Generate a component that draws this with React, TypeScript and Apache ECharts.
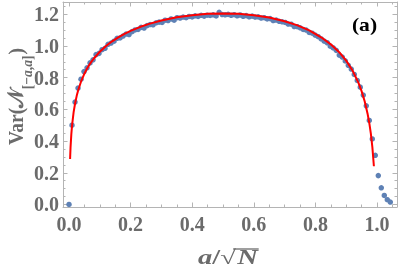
import React, { useEffect, useRef } from 'react';
import * as echarts from 'echarts';

// ---- data ----
const dotX = [
  0, 0.00975, 0.0195, 0.02925, 0.039, 0.04875, 0.0585, 0.06825, 0.078, 0.08775,
  0.0975, 0.10725, 0.117, 0.12675, 0.1365, 0.14625, 0.156, 0.16575, 0.1755, 0.18525,
  0.195, 0.20475, 0.2145, 0.22425, 0.234, 0.24375, 0.2535, 0.26325, 0.273, 0.28275,
  0.2925, 0.30225, 0.312, 0.32175, 0.3315, 0.34125, 0.351, 0.36075, 0.3705, 0.38025,
  0.39, 0.39975, 0.4095, 0.41925, 0.429, 0.43875, 0.4485, 0.45825, 0.468, 0.47775,
  0.4875, 0.49725, 0.507, 0.51675, 0.5265, 0.53625, 0.546, 0.55575, 0.5655, 0.57525,
  0.585, 0.59475, 0.6045, 0.61425, 0.624, 0.63375, 0.6435, 0.65325, 0.663, 0.67275,
  0.6825, 0.69225, 0.702, 0.71175, 0.7215, 0.73125, 0.741, 0.75075, 0.7605, 0.77025,
  0.78, 0.78975, 0.7995, 0.80925, 0.819, 0.82875, 0.8385, 0.84825, 0.858, 0.86775,
  0.8775, 0.88725, 0.897, 0.90675, 0.9165, 0.92625, 0.936, 0.94575, 0.9555, 0.96525,
  0.975, 0.98475, 0.9945, 1.00425, 1.014, 1.02375, 1.0335, 1.04325,
];
const dotY = [
  0.0, 0.5, 0.646, 0.734, 0.79, 0.838, 0.862, 0.893, 0.912, 0.945,
  0.953, 0.976, 0.985, 1.01, 1.018, 1.03, 1.048, 1.05, 1.062, 1.075,
  1.072, 1.09, 1.101, 1.104, 1.117, 1.113, 1.128, 1.135, 1.133, 1.146,
  1.15, 1.148, 1.162, 1.16, 1.17, 1.162, 1.178, 1.176, 1.182, 1.178,
  1.186, 1.183, 1.19, 1.186, 1.193, 1.188, 1.194, 1.192, 1.196, 1.189,
  1.212, 1.198, 1.196, 1.199, 1.193, 1.197, 1.19, 1.195, 1.187, 1.191,
  1.184, 1.188, 1.182, 1.183, 1.176, 1.178, 1.17, 1.172, 1.16, 1.163,
  1.155, 1.152, 1.148, 1.138, 1.137, 1.122, 1.121, 1.114, 1.104, 1.1,
  1.085, 1.08, 1.068, 1.058, 1.044, 1.03, 1.02, 0.998, 0.987, 0.972,
  0.942, 0.93, 0.905, 0.878, 0.854, 0.82, 0.782, 0.74, 0.69, 0.622,
  0.53, 0.413, 0.31, 0.182, 0.105, 0.057, 0.03, 0.015,
];
const curveX = [
  0.0035, 0.005, 0.0075, 0.01, 0.015, 0.02, 0.025, 0.03, 0.04, 0.05,
  0.06, 0.07, 0.08, 0.1, 0.12, 0.14, 0.16, 0.18, 0.2, 0.23,
  0.26, 0.3, 0.35, 0.4, 0.45, 0.5, 0.55, 0.6, 0.65, 0.7,
  0.74, 0.78, 0.82, 0.85, 0.88, 0.9, 0.92, 0.94, 0.95, 0.96,
  0.97, 0.975, 0.98, 0.985, 0.99,
];
const curveY = [
  0.287, 0.36, 0.442, 0.5, 0.582, 0.64, 0.685, 0.722, 0.78, 0.825,
  0.862, 0.893, 0.919, 0.963, 0.999, 1.029, 1.054, 1.076, 1.095, 1.119,
  1.139, 1.16, 1.181, 1.194, 1.2025, 1.205, 1.2024, 1.194, 1.179, 1.156,
  1.131, 1.098, 1.053, 1.01, 0.955, 0.907, 0.847, 0.767, 0.715, 0.651,
  0.567, 0.514, 0.448, 0.362, 0.241,
];
const xMajorTicks = [0, 0.2, 0.4, 0.6, 0.8, 1.0];
const xMinorTicks = [
  0, 0.05, 0.1, 0.15, 0.2, 0.25, 0.3, 0.35, 0.4, 0.45, 0.5,
  0.55, 0.6, 0.65, 0.7, 0.75, 0.8, 0.85, 0.9, 0.95, 1.0, 1.05,
];
const yMajorTicks = [0, 0.2, 0.4, 0.6, 0.8, 1.0, 1.2];
const yMinorTicks = [
  0, 0.05, 0.1, 0.15, 0.2, 0.25, 0.3, 0.35, 0.4, 0.45, 0.5, 0.55, 0.6,
  0.65, 0.7, 0.75, 0.8, 0.85, 0.9, 0.95, 1.0, 1.05, 1.1, 1.15, 1.2, 1.25,
];

const SERIF = '"Liberation Serif", "Times New Roman", "DejaVu Serif", serif';
const FRAME = '#b4b4b4';
const LABEL = '#6b6b6b';
const X_MIN = -0.0195;
const X_MAX = 1.065;
const Y_MIN = -0.016;
const Y_MAX = 1.277;

function textWidth(t: string, font: string): number {
  const c = document.createElement('canvas').getContext('2d');
  if (!c) return t.length * 10;
  c.font = font;
  return c.measureText(t).width;
}

type Piece = { t: string; size: number; italic?: boolean; dy?: number; gap?: number };

function layoutPieces(pieces: Piece[], color: string) {
  let x = 0;
  const children: any[] = [];
  const pos: number[] = [];
  pieces.forEach((p) => {
    x += p.gap || 0;
    const font = `${p.italic ? 'italic ' : ''}bold ${p.size}px ${SERIF}`;
    const w = textWidth(p.t, font);
    pos.push(x);
    children.push({
      type: 'text',
      x,
      y: p.dy || 0,
      style: {
        text: p.t,
        fill: color,
        fontSize: p.size,
        fontFamily: SERIF,
        fontWeight: 'bold',
        fontStyle: p.italic ? 'italic' : 'normal',
        align: 'left',
        textAlign: 'left',
        verticalAlign: 'middle',
        textVerticalAlign: 'middle',
      },
    });
    x += w;
  });
  return { children, width: x, pos };
}

function xAxisDef(position: string, ticks: number[], len: number, line: boolean, label: boolean) {
  return {
    type: 'value',
    gridIndex: 0,
    position,
    min: X_MIN,
    max: X_MAX,
    splitLine: { show: false },
    minorTick: { show: false },
    axisLine: { show: line, onZero: false, lineStyle: { color: FRAME, width: 1 } },
    axisTick: { show: true, inside: true, length: len, customValues: ticks, lineStyle: { color: FRAME, width: 1 } },
    axisLabel: {
      show: label,
      customValues: xMajorTicks,
      formatter: (v: number) => v.toFixed(1),
      fontFamily: SERIF,
      fontWeight: 'bold',
      fontSize: 20,
      color: LABEL,
      margin: 7,
    },
  };
}

function yAxisDef(position: string, ticks: number[], len: number, line: boolean, label: boolean) {
  return {
    type: 'value',
    gridIndex: 0,
    position,
    min: Y_MIN,
    max: Y_MAX,
    splitLine: { show: false },
    minorTick: { show: false },
    axisLine: { show: line, onZero: false, lineStyle: { color: FRAME, width: 1 } },
    axisTick: { show: true, inside: true, length: len, customValues: ticks, lineStyle: { color: FRAME, width: 1 } },
    axisLabel: {
      show: label,
      customValues: yMajorTicks,
      formatter: (v: number) => v.toFixed(1),
      fontFamily: SERIF,
      fontWeight: 'bold',
      fontSize: 20,
      color: LABEL,
      margin: 4,
    },
  };
}

export default function App() {
  const ref = useRef<HTMLDivElement>(null);
  useEffect(() => {
    if (!ref.current) return;
    const chart = echarts.init(ref.current, null, { renderer: 'svg' });

    // y-axis title: Var(N_[-a,a]) rotated
    const yl = layoutPieces(
      [
        { t: 'Var(', size: 20 },
        { t: '𝒩', size: 20 },
        { t: '[', size: 14, dy: 10 },
        { t: '−', size: 14, dy: 10 },
        { t: 'a', size: 14, italic: true, dy: 10 },
        { t: ',', size: 14, dy: 10 },
        { t: 'a', size: 14, italic: true, dy: 10 },
        { t: ']', size: 14, dy: 10 },
        { t: ')', size: 20, gap: 1 },
      ],
      LABEL
    );
    const yTarget = 97;
    const ysx = yTarget / yl.width;

    // x-axis title: a/√N
    const xl = layoutPieces(
      [
        { t: 'a', size: 20, italic: true },
        { t: '/', size: 20 },
        { t: '√', size: 20 },
        { t: 'N', size: 20, italic: true, gap: 1 },
      ],
      LABEL
    );
    const xTarget = 60;
    const xsx = xTarget / xl.width;
    const sqrtStart = xl.pos[2];
    const nStart = xl.pos[3];

    const option: any = {
      animation: false,
      grid: { left: 63, right: 2, top: 2, bottom: 64, containLabel: false },
      xAxis: [
        xAxisDef('bottom', xMajorTicks, 4.5, true, true),
        xAxisDef('bottom', xMinorTicks, 2.5, false, false),
        xAxisDef('top', xMajorTicks, 4.5, true, false),
        xAxisDef('top', xMinorTicks, 2.5, false, false),
      ],
      yAxis: [
        yAxisDef('left', yMajorTicks, 4.5, true, true),
        yAxisDef('left', yMinorTicks, 2.5, false, false),
        yAxisDef('right', yMajorTicks, 4.5, true, false),
        yAxisDef('right', yMinorTicks, 2.5, false, false),
      ],
      series: [
        {
          type: 'scatter',
          xAxisIndex: 0,
          yAxisIndex: 0,
          data: dotX.map((x, i) => [x, dotY[i]]),
          symbol: 'circle',
          symbolSize: 5.5,
          clip: false,
          itemStyle: { color: '#5e81b5', opacity: 1 },
          z: 2,
        },
        {
          type: 'line',
          xAxisIndex: 0,
          yAxisIndex: 0,
          data: curveX.map((x, i) => [x, curveY[i]]),
          showSymbol: false,
          symbol: 'none',
          smooth: false,
          lineStyle: { color: '#ff0000', width: 2 },
          z: 3,
        },
      ],
      graphic: [
        {
          type: 'group',
          x: 15.5,
          y: 96.5 + yTarget / 2,
          rotation: Math.PI / 2,
          scaleX: ysx,
          scaleY: 1.1,
          children: yl.children,
        },
        {
          type: 'group',
          x: 198,
          y: 257,
          scaleX: xsx,
          scaleY: 1,
          children: [
            ...xl.children,
            {
              type: 'line',
              shape: { x1: sqrtStart + 9, y1: -8, x2: xl.width + 0.5, y2: -8 },
              style: { stroke: LABEL, lineWidth: 1.3 },
            },
          ],
        },
        {
          type: 'text',
          x: 364.5,
          y: 25,
          scaleX: 1.2,
          style: {
            text: '(a)',
            fill: '#000000',
            fontSize: 18,
            fontFamily: SERIF,
            fontWeight: 'bold',
            align: 'center',
            textAlign: 'center',
            verticalAlign: 'middle',
            textVerticalAlign: 'middle',
          },
        },
      ],
    };
    chart.setOption(option);
    return () => chart.dispose();
  }, []);
  return (
    <div
      ref={ref}
      style={{ position: 'fixed', left: 0, top: 0, width: 399, height: 271 }}
    />
  );
}
